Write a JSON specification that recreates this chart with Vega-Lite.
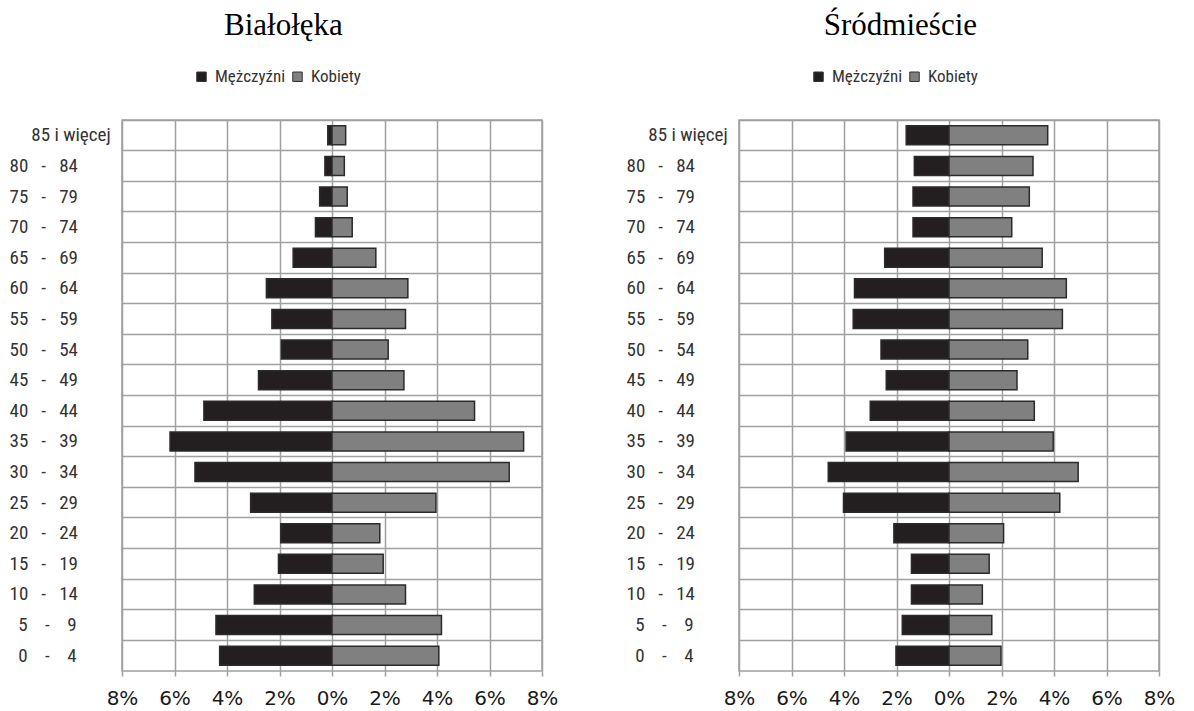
{
  "$schema": "https://vega.github.io/schema/vega-lite/v6.json",
  "padding": {"left": 8, "top": 9, "right": 5, "bottom": 0},
  "background": "white",
  "datasets": {
    "pop": [
      {"d": "Białołęka", "age": "85 i więcej", "sex": "Mężczyźni", "v": -0.16},
      {"d": "Białołęka", "age": "80 - 84", "sex": "Mężczyźni", "v": -0.27},
      {"d": "Białołęka", "age": "75 - 79", "sex": "Mężczyźni", "v": -0.47},
      {"d": "Białołęka", "age": "70 - 74", "sex": "Mężczyźni", "v": -0.63},
      {"d": "Białołęka", "age": "65 - 69", "sex": "Mężczyźni", "v": -1.48},
      {"d": "Białołęka", "age": "60 - 64", "sex": "Mężczyźni", "v": -2.5},
      {"d": "Białołęka", "age": "55 - 59", "sex": "Mężczyźni", "v": -2.29},
      {"d": "Białołęka", "age": "50 - 54", "sex": "Mężczyźni", "v": -1.93},
      {"d": "Białołęka", "age": "45 - 49", "sex": "Mężczyźni", "v": -2.8},
      {"d": "Białołęka", "age": "40 - 44", "sex": "Mężczyźni", "v": -4.88},
      {"d": "Białołęka", "age": "35 - 39", "sex": "Mężczyźni", "v": -6.17},
      {"d": "Białołęka", "age": "30 - 34", "sex": "Mężczyźni", "v": -5.22},
      {"d": "Białołęka", "age": "25 - 29", "sex": "Mężczyźni", "v": -3.1},
      {"d": "Białołęka", "age": "20 - 24", "sex": "Mężczyźni", "v": -1.95},
      {"d": "Białołęka", "age": "15 - 19", "sex": "Mężczyźni", "v": -2.04},
      {"d": "Białołęka", "age": "10 - 14", "sex": "Mężczyźni", "v": -2.96},
      {"d": "Białołęka", "age": "5 - 9", "sex": "Mężczyźni", "v": -4.42},
      {"d": "Białołęka", "age": "0 - 4", "sex": "Mężczyźni", "v": -4.28},
      {"d": "Białołęka", "age": "85 i więcej", "sex": "Kobiety", "v": 0.52},
      {"d": "Białołęka", "age": "80 - 84", "sex": "Kobiety", "v": 0.47},
      {"d": "Białołęka", "age": "75 - 79", "sex": "Kobiety", "v": 0.58},
      {"d": "Białołęka", "age": "70 - 74", "sex": "Kobiety", "v": 0.77},
      {"d": "Białołęka", "age": "65 - 69", "sex": "Kobiety", "v": 1.67},
      {"d": "Białołęka", "age": "60 - 64", "sex": "Kobiety", "v": 2.89},
      {"d": "Białołęka", "age": "55 - 59", "sex": "Kobiety", "v": 2.8},
      {"d": "Białołęka", "age": "50 - 54", "sex": "Kobiety", "v": 2.14},
      {"d": "Białołęka", "age": "45 - 49", "sex": "Kobiety", "v": 2.74},
      {"d": "Białołęka", "age": "40 - 44", "sex": "Kobiety", "v": 5.43},
      {"d": "Białołęka", "age": "35 - 39", "sex": "Kobiety", "v": 7.3},
      {"d": "Białołęka", "age": "30 - 34", "sex": "Kobiety", "v": 6.75},
      {"d": "Białołęka", "age": "25 - 29", "sex": "Kobiety", "v": 3.96},
      {"d": "Białołęka", "age": "20 - 24", "sex": "Kobiety", "v": 1.82},
      {"d": "Białołęka", "age": "15 - 19", "sex": "Kobiety", "v": 1.95},
      {"d": "Białołęka", "age": "10 - 14", "sex": "Kobiety", "v": 2.8},
      {"d": "Białołęka", "age": "5 - 9", "sex": "Kobiety", "v": 4.17},
      {"d": "Białołęka", "age": "0 - 4", "sex": "Kobiety", "v": 4.07},
      {"d": "Śródmieście", "age": "85 i więcej", "sex": "Mężczyźni", "v": -1.63},
      {"d": "Śródmieście", "age": "80 - 84", "sex": "Mężczyźni", "v": -1.32},
      {"d": "Śródmieście", "age": "75 - 79", "sex": "Mężczyźni", "v": -1.37},
      {"d": "Śródmieście", "age": "70 - 74", "sex": "Mężczyźni", "v": -1.37},
      {"d": "Śródmieście", "age": "65 - 69", "sex": "Mężczyźni", "v": -2.45},
      {"d": "Śródmieście", "age": "60 - 64", "sex": "Mężczyźni", "v": -3.6},
      {"d": "Śródmieście", "age": "55 - 59", "sex": "Mężczyźni", "v": -3.65},
      {"d": "Śródmieście", "age": "50 - 54", "sex": "Mężczyźni", "v": -2.59},
      {"d": "Śródmieście", "age": "45 - 49", "sex": "Mężczyźni", "v": -2.39},
      {"d": "Śródmieście", "age": "40 - 44", "sex": "Mężczyźni", "v": -3.0},
      {"d": "Śródmieście", "age": "35 - 39", "sex": "Mężczyźni", "v": -3.92},
      {"d": "Śródmieście", "age": "30 - 34", "sex": "Mężczyźni", "v": -4.6},
      {"d": "Śródmieście", "age": "25 - 29", "sex": "Mężczyźni", "v": -4.02},
      {"d": "Śródmieście", "age": "20 - 24", "sex": "Mężczyźni", "v": -2.1},
      {"d": "Śródmieście", "age": "15 - 19", "sex": "Mężczyźni", "v": -1.43},
      {"d": "Śródmieście", "age": "10 - 14", "sex": "Mężczyźni", "v": -1.43},
      {"d": "Śródmieście", "age": "5 - 9", "sex": "Mężczyźni", "v": -1.78},
      {"d": "Śródmieście", "age": "0 - 4", "sex": "Mężczyźni", "v": -2.02},
      {"d": "Śródmieście", "age": "85 i więcej", "sex": "Kobiety", "v": 3.76},
      {"d": "Śródmieście", "age": "80 - 84", "sex": "Kobiety", "v": 3.2},
      {"d": "Śródmieście", "age": "75 - 79", "sex": "Kobiety", "v": 3.06},
      {"d": "Śródmieście", "age": "70 - 74", "sex": "Kobiety", "v": 2.39},
      {"d": "Śródmieście", "age": "65 - 69", "sex": "Kobiety", "v": 3.55},
      {"d": "Śródmieście", "age": "60 - 64", "sex": "Kobiety", "v": 4.47},
      {"d": "Śródmieście", "age": "55 - 59", "sex": "Kobiety", "v": 4.32},
      {"d": "Śródmieście", "age": "50 - 54", "sex": "Kobiety", "v": 3.0},
      {"d": "Śródmieście", "age": "45 - 49", "sex": "Kobiety", "v": 2.59},
      {"d": "Śródmieście", "age": "40 - 44", "sex": "Kobiety", "v": 3.25},
      {"d": "Śródmieście", "age": "35 - 39", "sex": "Kobiety", "v": 3.97},
      {"d": "Śródmieście", "age": "30 - 34", "sex": "Kobiety", "v": 4.92},
      {"d": "Śródmieście", "age": "25 - 29", "sex": "Kobiety", "v": 4.22},
      {"d": "Śródmieście", "age": "20 - 24", "sex": "Kobiety", "v": 2.08},
      {"d": "Śródmieście", "age": "15 - 19", "sex": "Kobiety", "v": 1.53},
      {"d": "Śródmieście", "age": "10 - 14", "sex": "Kobiety", "v": 1.27},
      {"d": "Śródmieście", "age": "5 - 9", "sex": "Kobiety", "v": 1.63},
      {"d": "Śródmieście", "age": "0 - 4", "sex": "Kobiety", "v": 1.98}
    ]
  },
  "data": {"name": "pop"},
  "spacing": 66,
  "resolve": {"legend": {"color": "independent"}},
  "hconcat": [
    {
      "title": {"text": "Białołęka"},
      "width": 420,
      "height": 551,
      "transform": [{"filter": "datum.d == 'Białołęka'"}],
      "mark": {"type": "bar", "stroke": "#2b2b2b", "strokeWidth": 1.5, "height": {"band": 0.62}},
      "encoding": {
        "y": {
          "field": "age", "type": "nominal",
          "sort": ["85 i więcej", "80 - 84", "75 - 79", "70 - 74", "65 - 69", "60 - 64", "55 - 59", "50 - 54", "45 - 49", "40 - 44", "35 - 39", "30 - 34", "25 - 29", "20 - 24", "15 - 19", "10 - 14", "5 - 9", "0 - 4"],
          "scale": {"paddingInner": 0, "paddingOuter": 0},
          "axis": {"title": null}
        },
        "x": {
          "field": "v", "type": "quantitative", "stack": null,
          "scale": {"domain": [-8, 8], "nice": false},
          "axis": {"title": null}
        },
        "color": {
          "field": "sex", "type": "nominal",
          "scale": {"domain": ["Mężczyźni", "Kobiety"], "range": ["#231f20", "#808080"]},
          "legend": {"orient": "none", "legendX": 71, "legendY": -52}
        }
      }
    },
    {
      "title": {"text": "Śródmieście"},
      "width": 420,
      "height": 551,
      "transform": [{"filter": "datum.d == 'Śródmieście'"}],
      "mark": {"type": "bar", "stroke": "#2b2b2b", "strokeWidth": 1.5, "height": {"band": 0.62}},
      "encoding": {
        "y": {
          "field": "age", "type": "nominal",
          "sort": ["85 i więcej", "80 - 84", "75 - 79", "70 - 74", "65 - 69", "60 - 64", "55 - 59", "50 - 54", "45 - 49", "40 - 44", "35 - 39", "30 - 34", "25 - 29", "20 - 24", "15 - 19", "10 - 14", "5 - 9", "0 - 4"],
          "scale": {"paddingInner": 0, "paddingOuter": 0},
          "axis": {"title": null}
        },
        "x": {
          "field": "v", "type": "quantitative", "stack": null,
          "scale": {"domain": [-8, 8], "nice": false},
          "axis": {"title": null}
        },
        "color": {
          "field": "sex", "type": "nominal",
          "scale": {"domain": ["Mężczyźni", "Kobiety"], "range": ["#231f20", "#808080"]},
          "legend": {"orient": "none", "legendX": 71, "legendY": -52}
        }
      }
    }
  ],
  "config": {
    "view": {"stroke": "#a0a0a0", "strokeWidth": 1.5},
    "title": {"font": "Liberation Serif", "fontSize": 31, "fontWeight": "normal", "color": "#000000", "anchor": "middle", "frame": "bounds", "offset": 26},
    "axisY": {
      "domain": false, "ticks": false, "grid": true, "bandPosition": 0,
      "gridColor": "#a0a0a0", "gridWidth": 1.5,
      "labelAlign": "left", "labelPadding": 113,
      "labelFont": "Liberation Sans Narrow, Roboto Condensed, Liberation Sans", "labelFontSize": 19, "labelColor": "#333333",
      "labelExpr": "datum.label == '85 i więcej' ? '\u200b\u00a0\u00a0\u00a0\u00a0\u00a085 i więcej' : (length(datum.label) < 6 ? '\u200b\u00a0\u00a0' + replace(datum.label, ' - ', '\u00a0\u00a0\u00a0\u00a0-\u00a0\u00a0\u00a0\u00a0') : replace(datum.label, ' - ', '\u00a0\u00a0\u00a0-\u00a0\u00a0\u00a0'))"
    },
    "axisX": {
      "domain": false, "ticks": true, "tickSize": 5, "tickColor": "#a0a0a0", "tickWidth": 1.5,
      "grid": true, "gridColor": "#a0a0a0", "gridWidth": 1.5,
      "values": [-8, -6, -4, -2, 0, 2, 4, 6, 8],
      "labelExpr": "abs(datum.value) + '%'",
      "labelFont": "DejaVu Sans", "labelFontSize": 20, "labelColor": "#1a1a1a", "labelPadding": 12,
      "labelFlush": false, "labelOverlap": false
    },
    "legend": {
      "direction": "horizontal", "title": null, "symbolType": "square", "symbolSize": 90,
      "symbolStrokeColor": "#333333", "symbolStrokeWidth": 1,
      "labelFont": "Liberation Sans Narrow, Roboto Condensed, Liberation Sans", "labelFontSize": 17, "labelColor": "#333333",
      "columnPadding": 3, "labelOffset": 5
    }
  }
}
